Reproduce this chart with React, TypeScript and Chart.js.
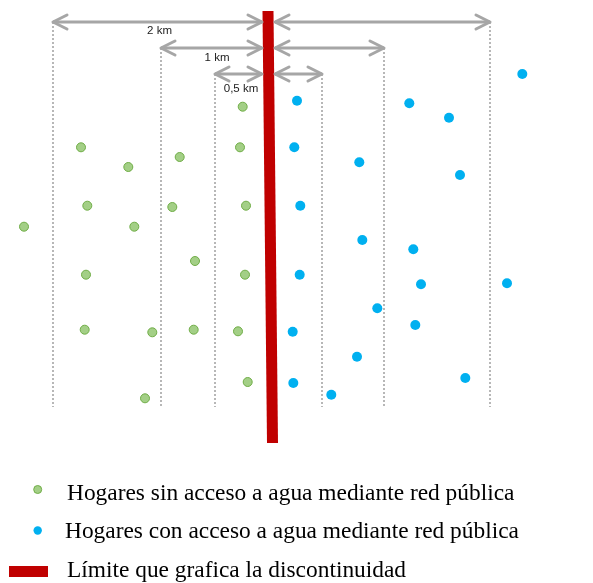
import React, { useEffect, useRef } from "react";
import { Chart, registerables } from "chart.js";

Chart.register(...registerables);

// Household positions (schematic map units)
const greenX = [242.7, 81, 128.3, 179.7, 240, 87.3, 172.3, 246, 24, 134.3, 86, 195, 245, 84.7, 152.3, 193.7, 238, 247.7, 145];
const greenY = [106.7, 147.3, 167, 157, 147.3, 205.7, 207, 205.7, 226.7, 226.7, 274.7, 261, 274.7, 329.7, 332.3, 329.7, 331.3, 382, 398.3];
const blueX = [522.3, 297, 409.3, 449, 294.3, 359.3, 460, 300.3, 362.3, 413.3, 299.7, 421, 507, 377.3, 415.3, 292.7, 357, 293.3, 465.3, 331.3];
const blueY = [74, 100.7, 103.3, 117.7, 147.3, 162.3, 175, 205.7, 240, 249.3, 274.7, 284.3, 283.3, 308.3, 325, 331.7, 356.7, 383, 378, 394.7];

// Boundary (discontinuity) line
const boundaryX = [268, 272.5];
const boundaryY = [11, 443];

// Distance bands
const bandLabels = ["2 km", "1 km", "0,5 km"];
const bandLeft = [53, 161, 215];
const bandRight = [490, 384, 322];
const bandLevel = [22, 48, 74];
const bandBottom = 407;
const arrowInnerLeft = 262;
const arrowInnerRight = 275;
const labelX = [159.5, 217, 241];
const labelY = [30.5, 58, 88.5];

const legendLabels = [
  "Hogares sin acceso a agua mediante red pública",
  "Hogares con acceso a agua mediante red pública",
  "Límite que grafica la discontinuidad",
];

const GREEN_FILL = "#A3CF86";
const GREEN_BORDER = "#70AD47";
const BLUE = "#00B0F0";
const RED = "#C00000";
const GRAY = "#A6A6A6";

export default function App() {
  const ref = useRef<HTMLCanvasElement | null>(null);

  useEffect(() => {
    document.body.style.margin = "0";
    const canvas = ref.current;
    if (!canvas) return;

    const datasets: any[] = [
      {
        label: legendLabels[0],
        data: greenX.map((x, i) => ({ x, y: greenY[i] })),
        backgroundColor: GREEN_FILL,
        borderColor: GREEN_BORDER,
        borderWidth: 1,
        pointRadius: 4.5,
      },
      {
        label: legendLabels[1],
        data: blueX.map((x, i) => ({ x, y: blueY[i] })),
        backgroundColor: BLUE,
        borderColor: BLUE,
        borderWidth: 0,
        pointRadius: 5,
      },
      {
        label: legendLabels[2],
        data: boundaryX.map((x, i) => ({ x, y: boundaryY[i] })),
        showLine: true,
        borderColor: RED,
        borderWidth: 11,
        borderCapStyle: "butt",
        pointRadius: 0,
      },
    ];

    // dotted verticals
    bandLabels.forEach((_, i) => {
      [bandLeft[i], bandRight[i]].forEach((x) => {
        datasets.push({
          label: "v",
          data: [{ x, y: bandLevel[i] }, { x, y: bandBottom }],
          showLine: true,
          borderColor: GRAY,
          borderWidth: 1.6,
          borderDash: [2, 2],
          pointRadius: 0,
        });
      });
      // arrows shafts
      datasets.push({
        label: "a",
        data: [{ x: bandLeft[i], y: bandLevel[i] }, { x: arrowInnerLeft, y: bandLevel[i] }],
        showLine: true,
        borderColor: GRAY,
        borderWidth: 3,
        pointRadius: 0,
      });
      datasets.push({
        label: "a",
        data: [{ x: arrowInnerRight, y: bandLevel[i] }, { x: bandRight[i], y: bandLevel[i] }],
        showLine: true,
        borderColor: GRAY,
        borderWidth: 3,
        pointRadius: 0,
      });
    });

    const overlay = {
      id: "overlay",
      afterDatasetsDraw(chart: any) {
        const ctx = chart.ctx as CanvasRenderingContext2D;
        const xs = chart.scales.x;
        const ys = chart.scales.y;
        ctx.save();
        ctx.strokeStyle = GRAY;
        ctx.lineWidth = 3;
        ctx.lineCap = "round";
        ctx.lineJoin = "round";
        const head = (tipX: number, y: number, dir: number) => {
          ctx.beginPath();
          ctx.moveTo(tipX - dir * 14, y - 7);
          ctx.lineTo(tipX, y);
          ctx.lineTo(tipX - dir * 14, y + 7);
          ctx.stroke();
        };
        bandLabels.forEach((lab, i) => {
          const y = ys.getPixelForValue(bandLevel[i]);
          head(xs.getPixelForValue(bandLeft[i]), y, -1);
          head(xs.getPixelForValue(arrowInnerLeft), y, 1);
          head(xs.getPixelForValue(arrowInnerRight), y, -1);
          head(xs.getPixelForValue(bandRight[i]), y, 1);
          ctx.fillStyle = "#222";
          ctx.font = "11.5px 'Liberation Sans', Arial, sans-serif";
          ctx.textAlign = "center";
          ctx.textBaseline = "middle";
          ctx.fillText(lab, xs.getPixelForValue(labelX[i]), ys.getPixelForValue(labelY[i]));
        });
        ctx.restore();
      },
      afterDraw(chart: any) {
        const ctx = chart.ctx as CanvasRenderingContext2D;
        ctx.save();
        // legend
        ctx.font = "23.4px 'Liberation Serif', 'Times New Roman', serif";
        ctx.fillStyle = "#000";
        ctx.textAlign = "left";
        ctx.textBaseline = "alphabetic";
        // marker 1
        ctx.beginPath();
        ctx.arc(37.7, 489.5, 4, 0, Math.PI * 2);
        ctx.fillStyle = GREEN_FILL;
        ctx.fill();
        ctx.lineWidth = 1;
        ctx.strokeStyle = GREEN_BORDER;
        ctx.stroke();
        // marker 2
        ctx.beginPath();
        ctx.arc(37.7, 530.5, 4.2, 0, Math.PI * 2);
        ctx.fillStyle = BLUE;
        ctx.fill();
        // marker 3
        ctx.fillStyle = RED;
        ctx.fillRect(9, 566, 39, 11);
        ctx.fillStyle = "#000";
        ctx.fillText(legendLabels[0], 67, 500);
        ctx.fillText(legendLabels[1], 65, 538);
        ctx.fillText(legendLabels[2], 67, 577);
        ctx.restore();
      },
    };

    const chart = new Chart(canvas, {
      type: "scatter",
      data: { datasets },
      options: {
        animation: false,
        responsive: false,
        layout: { padding: 0, autoPadding: false },
        scales: {
          x: { type: "linear", min: 0, max: 593, display: false },
          y: { type: "linear", min: 0, max: 583, reverse: true, display: false },
        },
        plugins: { legend: { display: false }, tooltip: { enabled: false } },
      },
      plugins: [overlay],
    } as any);

    return () => chart.destroy();
  }, []);

  return (
    <div style={{ width: 593, height: 583, background: "#fff" }}>
      <canvas ref={ref} width={593} height={583} style={{ display: "block" }} />
    </div>
  );
}
